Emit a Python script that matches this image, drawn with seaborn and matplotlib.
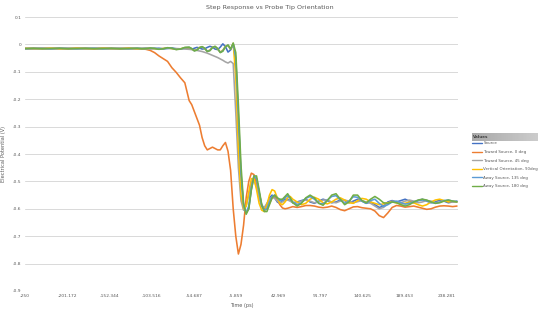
import numpy as np
import pandas as pd
import matplotlib
matplotlib.use("Agg")
import matplotlib.pyplot as plt
import seaborn as sns

# ---------------- data ----------------
time_ps = [-250, -240, -230, -220, -210, -200, -190, -180, -170, -160, -150, -140, -130, -120,
           -115, -110, -105, -100, -95, -90, -85, -80, -75, -70, -65,
           -60, -57, -54, -51, -48, -45, -42, -39, -36, -33,
           -30, -27, -24, -21, -18, -15, -12, -9, -6, -3,
           0, 3, 6, 9, 12, 15, 18, 21, 24, 27,
           30, 33, 36, 39, 42, 45, 48, 51, 54, 57, 60,
           65, 70, 75, 80, 85, 90, 95, 100, 105, 110,
           115, 120, 125, 130, 135, 140, 145, 150, 155, 160,
           165, 170, 175, 180, 185, 190, 195, 200, 205, 210,
           215, 220, 225, 230, 235, 240, 245, 250]

source = [-0.015, -0.016, -0.014, -0.015, -0.016, -0.015, -0.014, -0.016, -0.015, -0.014, -0.016, -0.015, -0.014, -0.016,
          -0.015, -0.014, -0.016, -0.015, -0.014, -0.016, -0.015, -0.013, -0.016, -0.017, -0.014,
          -0.015, -0.018, -0.014, -0.011, -0.013, -0.017, -0.016, -0.011, -0.007, -0.010,
          -0.017, -0.019, -0.010, 0.002, -0.008, -0.028, -0.020, 0.000, -0.060, -0.28,
          -0.48, -0.59, -0.615, -0.60, -0.53, -0.485, -0.49, -0.54, -0.585, -0.60,
          -0.585, -0.56, -0.55, -0.56, -0.575, -0.58, -0.57, -0.565, -0.565, -0.57, -0.578,
          -0.575, -0.57, -0.565, -0.575, -0.58, -0.572, -0.565, -0.57, -0.578, -0.575,
          -0.568, -0.57, -0.578, -0.572, -0.565, -0.572, -0.58, -0.575, -0.585, -0.595,
          -0.59, -0.575, -0.57, -0.575, -0.57, -0.565, -0.572, -0.578, -0.57, -0.565,
          -0.572, -0.578, -0.575, -0.568, -0.572, -0.578, -0.575, -0.572]

toward_0 = [-0.015, -0.014, -0.016, -0.015, -0.014, -0.016, -0.015, -0.014, -0.016, -0.015, -0.014, -0.016, -0.015, -0.015,
            -0.016, -0.018, -0.022, -0.030, -0.042, -0.052, -0.062, -0.085, -0.102, -0.122, -0.140,
            -0.205, -0.22, -0.245, -0.27, -0.295, -0.34, -0.37, -0.385, -0.38, -0.375,
            -0.38, -0.385, -0.385, -0.37, -0.358, -0.39, -0.46, -0.60, -0.70, -0.765,
            -0.73, -0.66, -0.56, -0.50, -0.47, -0.475, -0.51, -0.555, -0.59, -0.605,
            -0.60, -0.58, -0.56, -0.555, -0.565, -0.585, -0.597, -0.60, -0.598, -0.595, -0.592,
            -0.595, -0.592, -0.588, -0.588, -0.59, -0.594, -0.596, -0.594, -0.59, -0.595,
            -0.603, -0.607, -0.60, -0.593, -0.592, -0.596, -0.598, -0.60, -0.608, -0.625,
            -0.632, -0.615, -0.595, -0.588, -0.59, -0.594, -0.592, -0.59, -0.594, -0.598,
            -0.602, -0.60, -0.594, -0.59, -0.589, -0.59, -0.592, -0.59]

toward_45 = [-0.016, -0.015, -0.014, -0.016, -0.015, -0.014, -0.016, -0.015, -0.014, -0.016, -0.015, -0.014, -0.016, -0.015,
             -0.015, -0.014, -0.016, -0.015, -0.016, -0.015, -0.014, -0.016, -0.015, -0.016, -0.017,
             -0.018, -0.019, -0.020, -0.022, -0.024, -0.026, -0.029, -0.032, -0.036, -0.040,
             -0.044, -0.048, -0.053, -0.058, -0.064, -0.068, -0.062, -0.07, -0.25, -0.45,
             -0.57, -0.605, -0.59, -0.55, -0.50, -0.495, -0.52, -0.56, -0.59, -0.595,
             -0.58, -0.565, -0.558, -0.562, -0.572, -0.578, -0.575, -0.57, -0.568, -0.572, -0.578,
             -0.578, -0.572, -0.568, -0.572, -0.578, -0.575, -0.568, -0.568, -0.575, -0.578,
             -0.572, -0.568, -0.572, -0.578, -0.574, -0.57, -0.575, -0.58, -0.59, -0.60,
             -0.595, -0.58, -0.572, -0.575, -0.578, -0.572, -0.568, -0.572, -0.578, -0.575,
             -0.57, -0.572, -0.578, -0.575, -0.57, -0.572, -0.576, -0.574]

vertical_90 = [-0.015, -0.016, -0.015, -0.014, -0.016, -0.015, -0.014, -0.016, -0.015, -0.014, -0.016, -0.015, -0.014, -0.016,
               -0.015, -0.016, -0.014, -0.015, -0.017, -0.015, -0.013, -0.015, -0.018, -0.016, -0.012,
               -0.012, -0.017, -0.022, -0.019, -0.011, -0.009, -0.016, -0.024, -0.021, -0.010,
               -0.008, -0.017, -0.028, -0.021, -0.007, -0.004, -0.018, 0.004, -0.12, -0.38,
               -0.55, -0.60, -0.59, -0.54, -0.49, -0.49, -0.53, -0.58, -0.605, -0.61,
               -0.585, -0.55, -0.53, -0.535, -0.56, -0.58, -0.585, -0.575, -0.56, -0.555, -0.565,
               -0.575, -0.585, -0.58, -0.565, -0.558, -0.565, -0.578, -0.582, -0.575, -0.565,
               -0.56, -0.568, -0.578, -0.58, -0.57, -0.562, -0.565, -0.575, -0.58, -0.585,
               -0.582, -0.578, -0.575, -0.578, -0.582, -0.58, -0.575, -0.578, -0.585, -0.59,
               -0.585, -0.575, -0.568, -0.565, -0.57, -0.575, -0.572, -0.575]

away_135 = [-0.016, -0.015, -0.015, -0.016, -0.014, -0.015, -0.016, -0.015, -0.014, -0.016, -0.015, -0.015, -0.016, -0.014,
            -0.015, -0.016, -0.014, -0.014, -0.017, -0.016, -0.013, -0.014, -0.018, -0.017, -0.012,
            -0.011, -0.016, -0.023, -0.020, -0.012, -0.009, -0.015, -0.025, -0.022, -0.011,
            -0.008, -0.016, -0.029, -0.023, -0.008, -0.003, -0.018, 0.003, -0.05, -0.26,
            -0.47, -0.59, -0.615, -0.59, -0.52, -0.48, -0.49, -0.54, -0.59, -0.605,
            -0.60, -0.575, -0.555, -0.55, -0.56, -0.57, -0.568, -0.56, -0.552, -0.562, -0.575,
            -0.585, -0.578, -0.562, -0.555, -0.565, -0.58, -0.582, -0.568, -0.555, -0.552,
            -0.568, -0.58, -0.572, -0.556, -0.558, -0.572, -0.58, -0.57, -0.565, -0.58,
            -0.592, -0.585, -0.575, -0.572, -0.578, -0.583, -0.58, -0.574, -0.57, -0.568,
            -0.57, -0.576, -0.58, -0.576, -0.57, -0.568, -0.572, -0.574]

away_180 = [-0.015, -0.014, -0.016, -0.015, -0.014, -0.016, -0.015, -0.014, -0.016, -0.015, -0.014, -0.016, -0.015, -0.014,
            -0.016, -0.015, -0.013, -0.015, -0.018, -0.016, -0.012, -0.014, -0.019, -0.017, -0.011,
            -0.010, -0.015, -0.024, -0.021, -0.012, -0.008, -0.014, -0.026, -0.023, -0.012,
            -0.007, -0.015, -0.030, -0.025, -0.009, -0.002, -0.017, 0.005, -0.03, -0.22,
            -0.44, -0.58, -0.62, -0.60, -0.53, -0.48, -0.48, -0.53, -0.585, -0.61,
            -0.61, -0.585, -0.56, -0.55, -0.56, -0.565, -0.565, -0.555, -0.545, -0.56, -0.578,
            -0.59, -0.58, -0.56, -0.55, -0.56, -0.58, -0.587, -0.57, -0.55, -0.545,
            -0.565, -0.585, -0.575, -0.55, -0.55, -0.57, -0.578, -0.565, -0.555, -0.565,
            -0.578, -0.58, -0.575, -0.578, -0.585, -0.59, -0.585, -0.575, -0.568, -0.565,
            -0.568, -0.575, -0.58, -0.578, -0.572, -0.568, -0.572, -0.575]

series_names = ["Source", "Toward Source, 0 deg", "Toward Source, 45 deg",
                "Vertical Orientation, 90deg", "Away Source, 135 deg", "Away Source, 180 deg"]
series_values = [source, toward_0, toward_45, vertical_90, away_135, away_180]
series_colors = ["#4472C4", "#ED7D31", "#A5A5A5", "#FFC000", "#5B9BD5", "#70AD47"]

x_ticks = [-250, -201.172, -152.344, -103.516, -54.687, -5.859, 42.969, 91.797, 140.625, 189.453, 238.281]
x_tick_labels = ["-250", "-201.172", "-152.344", "-103.516", "-54.687", "-5.859",
                 "42.969", "91.797", "140.625", "189.453", "238.281"]
y_ticks = [0.1, 0, -0.1, -0.2, -0.3, -0.4, -0.5, -0.6, -0.7, -0.8, -0.9]
y_tick_labels = ["0.1", "0", "-0.1", "-0.2", "-0.3", "-0.4", "-0.5", "-0.6", "-0.7", "-0.8", "-0.9"]

title = "Step Response vs Probe Tip Orientation"
x_label = "Time (ps)"
y_label = "Electrical Potential (V)"
legend_title = "Values"

# ---------------- frame ----------------
frames = []
for name, vals in zip(series_names, series_values):
    frames.append(pd.DataFrame({"Time": time_ps, "V": vals, "Series": name}))
df = pd.concat(frames, ignore_index=True)

sns.set_theme(style="white")
plt.rcParams["font.family"] = ["DejaVu Sans"]

W, H = 540, 312
fig = plt.figure(figsize=(W / 100, H / 100), dpi=100)
ax = fig.add_axes([25 / W, 1 - 291 / H, (458 - 25) / W, (291 - 17) / H])

sns.lineplot(data=df, x="Time", y="V", hue="Series", hue_order=series_names,
             palette=dict(zip(series_names, series_colors)), linewidth=1.15,
             ax=ax, sort=True, estimator=None)
for ln in ax.get_lines():
    ln.set_solid_joinstyle("round")

ax.set_xlim(-250, 251.2)
ax.set_ylim(-0.9, 0.1)
ax.set_xticks(x_ticks)
ax.set_xticklabels(x_tick_labels)
ax.set_yticks(y_ticks)
ax.set_yticklabels(y_tick_labels)
ax.tick_params(axis="both", length=0, labelsize=3.2, colors="#595959", pad=2.5)
ax.grid(axis="y", color="#D9D9D9", linewidth=0.7)
ax.grid(axis="x", visible=False)
for s in ax.spines.values():
    s.set_visible(False)
ax.set_axisbelow(True)
ax.set_xlabel(x_label, fontsize=3.6, color="#595959", labelpad=3)
ax.set_ylabel(y_label, fontsize=3.6, color="#595959", labelpad=5)

fig.text(0.5, 1 - 8 / H, title, ha="center", va="center", fontsize=4.6, color="#595959")

# legend
sns.move_legend(ax, "upper left", bbox_to_anchor=(471 / W, 1 - 140.5 / H),
                bbox_transform=fig.transFigure, title=None, frameon=False,
                fontsize=2.9, handlelength=2.6, handletextpad=0.25, labelspacing=1.15,
                borderpad=0.2, borderaxespad=0)
for line in ax.get_legend().get_lines():
    line.set_linewidth(1.0)
for t in ax.get_legend().get_texts():
    t.set_color("#595959")

hax = fig.add_axes([472 / W, 1 - 141 / H, (538 - 472) / W, 8 / H])
grad = np.linspace(0.66, 0.80, 100)[None, :]
hax.imshow(grad, aspect="auto", cmap="gray", vmin=0, vmax=1, extent=[0, 1, 0, 1])
hax.set_axis_off()
hax.text(0.02, 0.5, legend_title, ha="left", va="center", fontsize=3.0,
         fontweight="bold", color="#404040", transform=hax.transAxes)

fig.savefig("out.png", dpi=100)
